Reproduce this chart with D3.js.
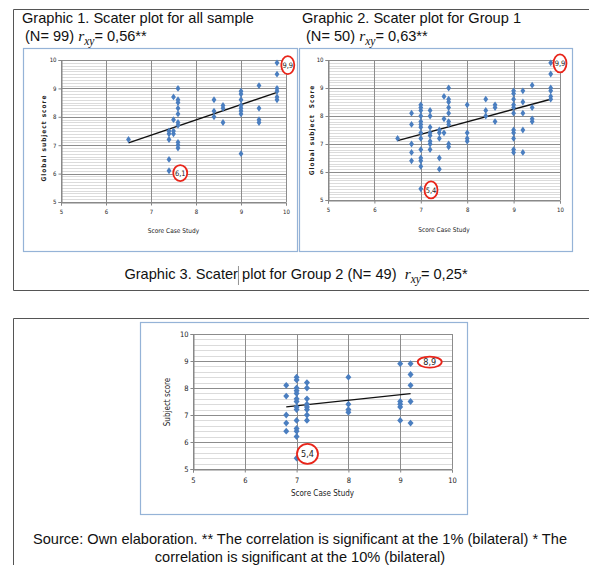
<!DOCTYPE html>
<html>
<head>
<meta charset="utf-8">
<script src="https://cdn.jsdelivr.net/npm/d3@7"></script>
<style>
body { margin: 0; background: #fff; }
text { font-family: "Liberation Sans", Arial, sans-serif; }
.small { font-family: "DejaVu Sans Condensed", "Liberation Sans Narrow", sans-serif; }
</style>
</head>
<body>
<div id="container"></div>
<script>
// Scatter points [score case study, subject score]
var allSample = [
    [6.5, 7.2],
    [7.4, 7.5], [7.4, 7.4], [7.4, 7.2], [7.4, 6.5], [7.4, 6.1],
    [7.5, 8.7], [7.5, 7.9], [7.5, 7.5], [7.5, 7.4],
    [7.6, 9.0], [7.6, 8.6], [7.6, 8.5], [7.6, 8.3], [7.6, 8.1], [7.6, 7.8], [7.6, 7.7], [7.6, 7.1], [7.6, 7.0], [7.6, 6.9],
    [8.4, 8.6], [8.4, 8.2], [8.4, 8.0],
    [8.6, 8.4], [8.6, 8.3], [8.6, 7.8],
    [9.0, 8.9], [9.0, 8.8], [9.0, 8.6], [9.0, 8.4], [9.0, 8.3], [9.0, 8.2], [9.0, 8.1], [9.0, 6.7],
    [9.4, 9.1], [9.4, 8.3], [9.4, 7.9], [9.4, 7.8],
    [9.8, 9.9], [9.8, 9.5], [9.8, 9.0], [9.8, 8.9], [9.8, 8.7], [9.8, 8.6]
];
var group1 = [
    [6.5, 7.2],
    [6.8, 8.1], [6.8, 7.7], [6.8, 7.0], [6.8, 6.7], [6.8, 6.4],
    [7.0, 8.4], [7.0, 8.3], [7.0, 8.2], [7.0, 8.0], [7.0, 7.8], [7.0, 7.7], [7.0, 7.6], [7.0, 7.4], [7.0, 7.2],
    [7.0, 6.8], [7.0, 6.5], [7.0, 6.4], [7.0, 6.2], [7.0, 5.4],
    [7.2, 8.2], [7.2, 8.0], [7.2, 7.6], [7.2, 7.4], [7.2, 7.3], [7.2, 7.1], [7.2, 7.0], [7.2, 6.8],
    [7.4, 7.5], [7.4, 7.4], [7.4, 7.2], [7.4, 6.5], [7.4, 6.1],
    [7.5, 8.7], [7.5, 7.9], [7.5, 7.4],
    [7.6, 9.0], [7.6, 8.6], [7.6, 8.5], [7.6, 8.3], [7.6, 8.1], [7.6, 7.8], [7.6, 7.7], [7.6, 7.0], [7.6, 6.9],
    [8.0, 8.4], [8.0, 7.4], [8.0, 7.2], [8.0, 7.1],
    [8.4, 8.6], [8.4, 8.2], [8.4, 8.0],
    [8.6, 8.4], [8.6, 8.3], [8.6, 7.8],
    [9.0, 8.9], [9.0, 8.8], [9.0, 8.6], [9.0, 8.4], [9.0, 8.3], [9.0, 8.1], [9.0, 7.5], [9.0, 7.4], [9.0, 7.2], [9.0, 6.8], [9.0, 6.7],
    [9.2, 8.9], [9.2, 8.5], [9.2, 8.1], [9.2, 7.5], [9.2, 6.7],
    [9.4, 9.1], [9.4, 8.3], [9.4, 7.9], [9.4, 7.8],
    [9.8, 9.9], [9.8, 9.5], [9.8, 9.0], [9.8, 8.9], [9.8, 8.7], [9.8, 8.6]
];
var group2 = [
    [6.8, 8.1], [6.8, 7.7], [6.8, 7.0], [6.8, 6.7], [6.8, 6.4],
    [7.0, 8.4], [7.0, 8.3], [7.0, 8.0], [7.0, 7.9], [7.0, 7.8], [7.0, 7.6], [7.0, 7.5], [7.0, 7.3], [7.0, 7.2],
    [7.0, 6.8], [7.0, 6.5], [7.0, 6.4], [7.0, 6.2], [7.0, 5.4],
    [7.2, 8.2], [7.2, 8.0], [7.2, 7.6], [7.2, 7.4], [7.2, 7.3], [7.2, 7.2], [7.2, 7.0], [7.2, 6.8],
    [8.0, 8.4], [8.0, 7.4], [8.0, 7.2], [8.0, 7.1],
    [9.0, 8.9], [9.0, 7.5], [9.0, 7.4], [9.0, 7.3], [9.0, 6.8],
    [9.2, 8.9], [9.2, 8.5], [9.2, 8.1], [9.2, 7.5], [9.2, 6.7]
];

// Linear trend line end points
var trend1 = [[6.5, 7.08], [9.8, 8.86]];
var trend2 = [[6.5, 7.12], [9.8, 8.6]];
var trend3 = [[6.8, 7.3], [9.2, 7.79]];

// Circled labels [x, y, text]
var notes1 = [[10.04, 9.82, "9,9"], [7.65, 6.02, "6,1"]];
var notes2 = [[10.0, 9.88, "9,9"], [7.22, 5.36, "5,4"]];
var notes3 = [[9.57, 8.96, "8,9"], [7.21, 5.56, "5,4"]];

var axisTicks = [5, 6, 7, 8, 9, 10];

var width = 589, height = 565;
var svg = d3.select("#container").append("svg")
    .attr("width", width)
    .attr("height", height);

// Document table lines
svg.append("path")
    .attr("d", "M600,9.5H13.5V290.5H600")
    .attr("fill", "none").attr("stroke", "#555").attr("stroke-width", 1);
svg.append("path")
    .attr("d", "M600,318.5H13.5V570")
    .attr("fill", "none").attr("stroke", "#555").attr("stroke-width", 1);

function rxyTitle(x, y, before, after, anchor) {
    var t = svg.append("text")
        .attr("x", x).attr("y", y)
        .attr("font-size", 14.6)
        .attr("text-anchor", anchor || "start")
        .attr("fill", "#111");
    t.append("tspan").text(before);
    t.append("tspan").attr("font-family", "Liberation Serif").attr("font-style", "italic").attr("font-size", 15.5).text("r");
    t.append("tspan").attr("font-family", "Liberation Serif").attr("font-style", "italic").attr("font-size", 11.5).attr("dy", 4).text("xy");
    t.append("tspan").attr("dy", -4).text(after);
    return t;
}

svg.append("text").attr("x", 22).attr("y", 23).attr("font-size", 14.6).attr("fill", "#111")
    .text("Graphic 1. Scater plot for all sample");
rxyTitle(25, 41, "(N= 99) ", "= 0,56**");
svg.append("text").attr("x", 302).attr("y", 23).attr("font-size", 14.6).attr("fill", "#111")
    .text("Graphic 2. Scater plot for Group 1");
rxyTitle(306, 41, "(N= 50) ", "= 0,63**");

var t3 = rxyTitle(296, 279, "Graphic 3. Scater plot for Group 2 (N= 49)  ", "= 0,25*", "middle");
t3.style("white-space", "pre");
// text cursor after "Scater"
var b3 = t3.node().getBBox();
var cx3 = b3.x + t3.node().getSubStringLength(0, 17) + 0.5;
svg.append("line").attr("x1", cx3).attr("x2", cx3).attr("y1", b3.y + 1).attr("y2", b3.y + b3.height - 1)
    .attr("stroke", "#777").attr("stroke-width", 0.8);

svg.append("text").attr("x", 300).attr("y", 544).attr("font-size", 14.6).attr("text-anchor", "middle").attr("fill", "#111")
    .text("Source: Own elaboration. ** The correlation is significant at the 1% (bilateral) * The");
svg.append("text").attr("x", 300).attr("y", 562).attr("font-size", 14.6).attr("text-anchor", "middle").attr("fill", "#111")
    .text("correlation is significant at the 10% (bilateral)");

function drawChart(c) {
    // Chart frame
    svg.append("rect")
        .attr("x", c.frame[0] + 0.5).attr("y", c.frame[1] + 0.5)
        .attr("width", c.frame[2]).attr("height", c.frame[3])
        .attr("fill", "#fff").attr("stroke", "#95b3d7").attr("stroke-width", 1.2);

    var x = d3.scaleLinear().domain([5, 10]).range([c.left, c.right]);
    var y = d3.scaleLinear().domain([5, 10]).range([c.bottom, c.top]);
    var g = svg.append("g");

    // Minor horizontal grid
    g.selectAll(".minor")
        .data(d3.range(5, 10.0001, c.minor).filter(function(d) { return Math.abs(d - Math.round(d)) > 1e-6; }))
        .enter().append("line")
        .attr("x1", c.left).attr("x2", c.right)
        .attr("y1", function(d) { return Math.round(y(d)) + 0.5; })
        .attr("y2", function(d) { return Math.round(y(d)) + 0.5; })
        .attr("stroke", "#d2d2d2").attr("stroke-width", 0.8);
    // Major grid
    g.selectAll(".hmajor").data(axisTicks).enter().append("line")
        .attr("x1", c.left).attr("x2", c.right)
        .attr("y1", function(d) { return Math.round(y(d)) + 0.5; })
        .attr("y2", function(d) { return Math.round(y(d)) + 0.5; })
        .attr("stroke", "#8c8c8c").attr("stroke-width", 1);
    g.selectAll(".vmajor").data(axisTicks).enter().append("line")
        .attr("y1", c.top).attr("y2", c.bottom)
        .attr("x1", function(d) { return Math.round(x(d)) + 0.5; })
        .attr("x2", function(d) { return Math.round(x(d)) + 0.5; })
        .attr("stroke", "#8c8c8c").attr("stroke-width", 1);

    // Axes
    var xa = g.append("g").attr("class", "small")
        .attr("transform", "translate(0," + (Math.round(c.bottom) + 0.5) + ")")
        .call(d3.axisBottom(x).tickValues(axisTicks).tickFormat(d3.format("d")).tickSize(3).tickPadding(c.fs * 0.7));
    var ya = g.append("g").attr("class", "small")
        .attr("transform", "translate(" + (Math.round(c.left) + 0.5) + ",0)")
        .call(d3.axisLeft(y).tickValues(axisTicks).tickFormat(d3.format("d")).tickSize(3).tickPadding(2));
    [xa, ya].forEach(function(a) {
        a.selectAll("path,line").attr("stroke", "#868686");
        a.selectAll("text").attr("font-size", c.fs).attr("fill", "#222")
            .style("font-family", "'DejaVu Sans Condensed', sans-serif");
    });

    // Axis titles
    svg.append("text")
        .attr("x", (c.left + c.right) / 2).attr("y", c.xTitleY)
        .attr("text-anchor", "middle").attr("font-size", c.fs + 0.5).attr("fill", "#222")
        .style("font-family", "'DejaVu Sans Condensed', sans-serif")
        .text("Score Case Study");
    svg.append("text")
        .attr("transform", "translate(" + c.yTitle[0] + "," + c.yTitle[1] + ") rotate(-90)")
        .attr("text-anchor", "middle").attr("font-size", c.fs + 0.5).attr("fill", "#222")
        .attr("font-weight", c.yBold ? "bold" : "normal")
        .attr("letter-spacing", c.yBold ? 1 : 0)
        .style("white-space", "pre")
        .style("font-family", "'DejaVu Sans Condensed', sans-serif")
        .text(c.yText);

    // Trend line
    g.append("line")
        .attr("x1", x(c.trend[0][0])).attr("y1", y(c.trend[0][1]))
        .attr("x2", x(c.trend[1][0])).attr("y2", y(c.trend[1][1]))
        .attr("stroke", "#111").attr("stroke-width", 1.4);

    // Diamonds
    var w = c.dw, h = c.dh;
    g.selectAll(".pt").data(c.data).enter().append("path")
        .attr("d", "M0," + (-h) + "L" + w + ",0L0," + h + "L" + (-w) + ",0Z")
        .attr("transform", function(d) { return "translate(" + x(d[0]) + "," + y(d[1]) + ")"; })
        .attr("fill", "#4a7ec0");

    // Circled labels
    var n = g.selectAll(".note").data(c.notes).enter().append("g")
        .attr("transform", function(d) { return "translate(" + x(d[0]) + "," + y(d[1]) + ")"; });
    n.append("ellipse")
        .attr("rx", function(d, i) { return c.noteR[i][0]; })
        .attr("ry", function(d, i) { return c.noteR[i][1]; })
        .attr("fill", "#fff").attr("stroke", "#e8251a").attr("stroke-width", 1.8);
    n.append("text")
        .attr("text-anchor", "middle").attr("dy", "0.35em")
        .attr("font-size", c.fs + 1.5).attr("fill", "#222")
        .style("font-family", "'DejaVu Sans Condensed', sans-serif")
        .text(function(d) { return d[2]; });
}

drawChart({
    frame: [23, 48, 274, 203], left: 61, right: 286, top: 60, bottom: 202,
    minor: 0.1, fs: 6, data: allSample, trend: trend1, notes: notes1,
    noteR: [[6.5, 9], [7, 8]], dw: 2.4, dh: 3.4,
    xTitleY: 233, yTitle: [46, 138], yText: "Global subject score", yBold: true
});
drawChart({
    frame: [299, 48, 273, 203], left: 328, right: 560, top: 60, bottom: 200,
    minor: 0.1, fs: 6, data: group1, trend: trend2, notes: notes2,
    noteR: [[6.5, 9], [6.5, 8.5]], dw: 2.4, dh: 3.4,
    xTitleY: 232, yTitle: [314, 130], yText: "Global subject  Score", yBold: true
});
drawChart({
    frame: [140, 322, 327, 192], left: 193, right: 452, top: 334, bottom: 469,
    minor: 0.2, fs: 7.5, data: group2, trend: trend3, notes: notes3,
    noteR: [[12, 5.5], [10.5, 10]], dw: 3, dh: 3.4,
    xTitleY: 496, yTitle: [170, 402], yText: "Subject score", yBold: false
});
</script>
</body>
</html>
